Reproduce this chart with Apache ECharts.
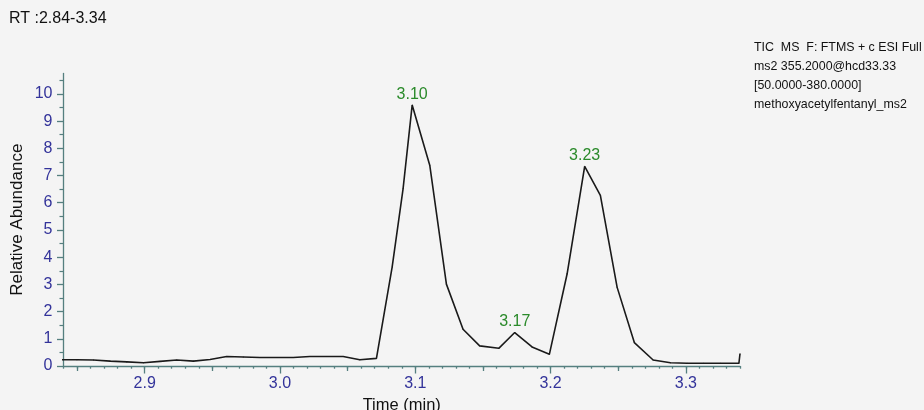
<!DOCTYPE html>
<html>
<head>
<meta charset="utf-8">
<script src="https://cdn.jsdelivr.net/npm/echarts@6/dist/echarts.min.js"></script>
<style>
html,body{margin:0;padding:0;background:#f4f4f4;}
#chart{width:924px;height:410px;}
</style>
</head>
<body>
<div id="chart"></div>
<script>
const titleText = 'RT :2.84-3.34';
const infoLines = ['TIC  MS  F: FTMS + c ESI Full', 'ms2 355.2000@hcd33.33', '[50.0000-380.0000]', 'methoxyacetylfentanyl_ms2'];

const times = [2.8376, 2.8499, 2.8622, 2.8745, 2.8868, 2.8991, 2.9114, 2.9237, 2.9360, 2.9483,
  2.9606, 2.9729, 2.9852, 2.9975, 3.0098, 3.0221, 3.0344, 3.0467, 3.0590, 3.0713,
  3.0829, 3.0910, 3.0977, 3.1107, 3.1230, 3.1353, 3.1476, 3.1617, 3.1735, 3.1863,
  3.1991, 3.2122, 3.2252, 3.2368, 3.2492, 3.2619, 3.2758, 3.2886, 3.3009, 3.3132,
  3.3255, 3.3392, 3.3400];
const abundance = [0.23, 0.23, 0.22, 0.18, 0.15, 0.12, 0.17, 0.22, 0.18, 0.24,
  0.35, 0.33, 0.31, 0.31, 0.31, 0.35, 0.35, 0.35, 0.23, 0.28,
  3.63, 6.52, 9.59, 7.38, 3.01, 1.35, 0.74, 0.65, 1.23, 0.70,
  0.43, 3.38, 7.34, 6.27, 2.89, 0.86, 0.22, 0.12, 0.10, 0.10,
  0.10, 0.10, 0.45];
const peakTimes = [3.0977, 3.1735, 3.2252];

const xLabelValues = [2.9, 3.0, 3.1, 3.2, 3.3];
const xHalfTicks = [2.85, 2.95, 3.05, 3.15, 3.25];
const yLabelValues = [0, 1, 2, 3, 4, 5, 6, 7, 8, 9, 10];

const xMinorTicks = [];
for (let i = 284; i <= 334; i++) xMinorTicks.push(i / 100);
const yMinorTicks = [];
for (let i = 1; i <= 21; i += 2) yMinorTicks.push(i / 2);

const axisColor = '#557f7f';
const labelColor = '#33339a';
const peakColor = '#2a8a2a';
const fontFamily = '"Liberation Sans", Arial, sans-serif';

const seriesData = times.map((t, i) => {
  const item = { value: [t, abundance[i]] };
  if (peakTimes.indexOf(t) >= 0) {
    item.label = { show: true, formatter: t.toFixed(2) };
  }
  return item;
});

function tickAxis(values, len, showLine) {
  return {
    type: 'value', min: 2.84, max: 3.34, position: 'bottom',
    axisLine: { show: !!showLine, lineStyle: { color: axisColor, width: 1.3 } },
    axisTick: { show: true, customValues: values, length: len, lineStyle: { color: axisColor, width: 1.3 } },
    axisLabel: { show: false },
    splitLine: { show: false }
  };
}

const chart = echarts.init(document.getElementById('chart'), null, { renderer: 'canvas' });
chart.setOption({
  backgroundColor: '#f4f4f4',
  animation: false,
  grid: { left: 63.5, right: 184, top: 73.5, bottom: 44, containLabel: false, outerBoundsMode: 'none' },
  graphic: [
    { type: 'text', left: 9, top: 11, style: { text: titleText, fill: '#111', font: '16px ' + fontFamily } },
    { type: 'text', left: 754, top: 38.5, style: { text: infoLines.join('\n'), fill: '#111', font: '12.4px ' + fontFamily, lineHeight: 18.9 } }
  ],
  xAxis: [
    {
      type: 'value', min: 2.84, max: 3.34, position: 'bottom',
      axisLine: { show: true, lineStyle: { color: axisColor, width: 1.3 } },
      axisTick: { show: true, customValues: xLabelValues, length: 7.5, lineStyle: { color: axisColor, width: 1.3 } },
      axisLabel: { customValues: xLabelValues, formatter: v => v.toFixed(1), color: labelColor, fontSize: 16, margin: 9.5, fontFamily: fontFamily },
      splitLine: { show: false },
      name: 'Time (min)', nameLocation: 'middle', nameGap: 31, nameMoveOverlap: false,
      nameTextStyle: { color: '#111', fontSize: 16.5, fontFamily: fontFamily }
    },
    tickAxis(xHalfTicks, 5, false),
    tickAxis(xMinorTicks, 2.7, false)
  ],
  yAxis: [
    {
      type: 'value', min: 0, max: 10.75, position: 'left',
      axisLine: { show: true, lineStyle: { color: axisColor, width: 1.3 } },
      axisTick: { show: true, customValues: yLabelValues, length: 6.5, lineStyle: { color: axisColor, width: 1.3 } },
      axisLabel: { customValues: yLabelValues, color: labelColor, fontSize: 16, margin: 11, fontFamily: fontFamily },
      splitLine: { show: false },
      name: 'Relative Abundance', nameLocation: 'middle', nameGap: 38, nameMoveOverlap: false,
      nameTextStyle: { color: '#111', fontSize: 17, fontFamily: fontFamily }
    },
    {
      type: 'value', min: 0, max: 10.75, position: 'left',
      axisLine: { show: false },
      axisTick: { show: true, customValues: yMinorTicks, length: 4, lineStyle: { color: axisColor, width: 1.2 } },
      axisLabel: { show: false },
      splitLine: { show: false }
    }
  ],
  series: [
    {
      type: 'line', xAxisIndex: 0, yAxisIndex: 0,
      data: seriesData,
      showSymbol: true, showAllSymbol: true, symbol: 'circle', symbolSize: 1,
      itemStyle: { color: '#1a1a1a' },
      lineStyle: { color: '#1a1a1a', width: 1.6 },
      label: { show: false, position: 'top', distance: 2, color: peakColor, fontSize: 16, fontFamily: fontFamily },
      labelLayout: { hideOverlap: false },
      clip: true,
      silent: true
    }
  ]
});
</script>
</body>
</html>
